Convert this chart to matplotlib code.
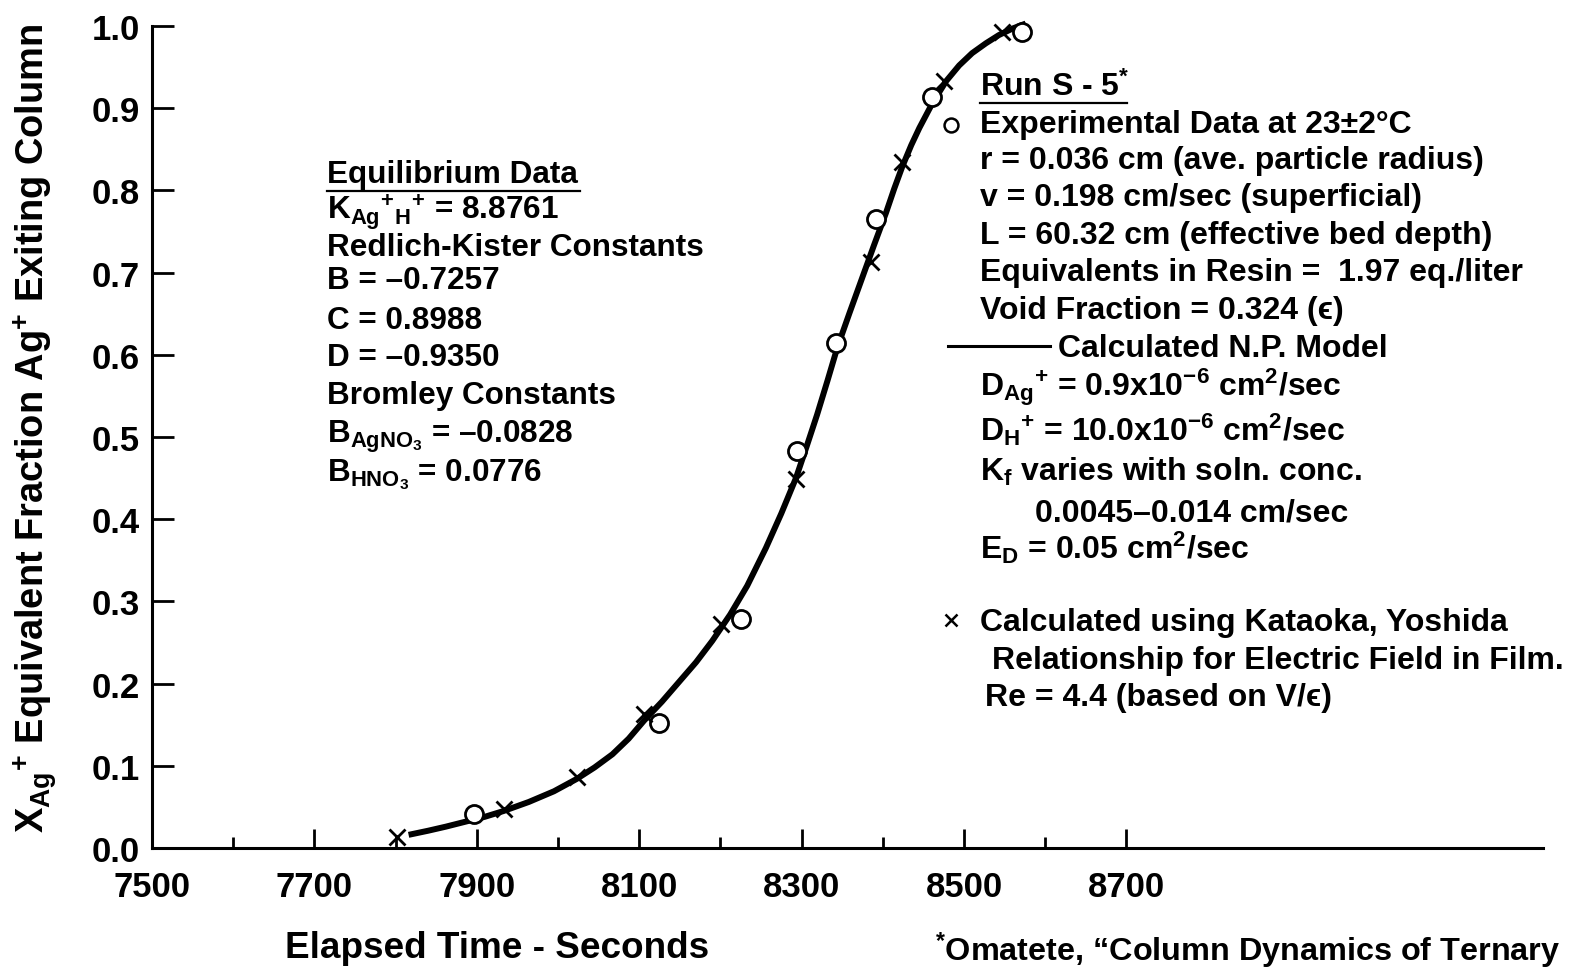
import matplotlib
matplotlib.use("Agg")
import matplotlib.pyplot as plt
from matplotlib import font_manager
from matplotlib.lines import Line2D
from matplotlib.ticker import FixedLocator

# Run S-5, Ag+ breakthrough at the column outlet
t_exp = [7897, 8124, 8225, 8294, 8342, 8392, 8461, 8571]
x_exp = [0.041, 0.152, 0.279, 0.483, 0.614, 0.765, 0.914, 0.993]

# Kataoka-Yoshida film field points
t_ky = [7802, 7933, 8023, 8106, 8201, 8293, 8385, 8424, 8475, 8547]
x_ky = [0.013, 0.047, 0.086, 0.163, 0.272, 0.449, 0.713, 0.835, 0.933, 0.993]

# N.P. model curve
t_np = [7816, 7840, 7862, 7890, 7910, 7933, 7964, 7995, 8023, 8045,
        8067, 8087, 8106, 8128, 8149, 8170, 8190, 8212, 8233, 8256,
        8275, 8293, 8306, 8319, 8332, 8344, 8359, 8374, 8389, 8404,
        8414, 8424, 8435, 8445, 8461, 8478, 8494, 8510, 8527, 8543,
        8560, 8576]
x_np = [0.016, 0.021, 0.026, 0.033, 0.038, 0.045, 0.056, 0.069, 0.084, 0.098,
        0.114, 0.133, 0.155, 0.178, 0.202, 0.226, 0.252, 0.284, 0.319, 0.365,
        0.407, 0.450, 0.488, 0.527, 0.569, 0.609, 0.651, 0.692, 0.733, 0.773,
        0.802, 0.829, 0.855, 0.876, 0.906, 0.933, 0.952, 0.967, 0.979, 0.989,
        0.997, 1.003]

x_ticks = [7500, 7700, 7900, 8100, 8300, 8500, 8700]
x_minor = [7600, 7800, 8000, 8200, 8400, 8600]
y_ticks = [0.0, 0.1, 0.2, 0.3, 0.4, 0.5, 0.6, 0.7, 0.8, 0.9, 1.0]


def have(name):
    try:
        font_manager.findfont(font_manager.FontProperties(family=name),
                              fallback_to_default=False)
        return True
    except ValueError:
        return False


SANS = ["Liberation Sans", "DejaVu Sans"]
NARROW = ["Liberation Sans Narrow"] + SANS if have("Liberation Sans Narrow") else SANS
narrow_scale = 1.0 if have("Liberation Sans Narrow") else 0.865

plt.rcParams.update({
    "font.family": SANS,
    "font.weight": "bold",
    "mathtext.fontset": "custom",
    "mathtext.rm": "Liberation Sans:bold",
    "mathtext.it": "Liberation Sans:bold",
    "mathtext.bf": "Liberation Sans:bold",
    "mathtext.sf": "Liberation Sans:bold",
})

W, H = 1574, 970
fig = plt.figure(figsize=(W / 100, H / 100), dpi=100)
ax = fig.add_axes([152 / W, 1 - 849 / H, (1543 - 152) / W, (849 - 27) / H])

ax.plot(t_np, x_np, color="black", lw=4.3, solid_capstyle="butt",
        solid_joinstyle="round", clip_on=False)
ax.plot(t_exp, x_exp, ls="none", marker="o", ms=13, mfc="white", mec="black",
        mew=2.0, clip_on=False)
ax.plot(t_ky, x_ky, ls="none", marker="x", ms=12, mec="black", mew=2.0, clip_on=False)

ax.set_xlim(7500, 9213)
ax.set_ylim(0, 1.0)
for side in ("top", "right"):
    ax.spines[side].set_visible(False)
for side in ("left", "bottom"):
    ax.spines[side].set_linewidth(2.2)

ax.xaxis.set_major_locator(FixedLocator(x_ticks))
ax.xaxis.set_minor_locator(FixedLocator(x_minor))
ax.yaxis.set_major_locator(FixedLocator(y_ticks))
ax.set_xticklabels([str(t) for t in x_ticks])
ax.set_yticklabels([f"{v:.1f}" for v in y_ticks])
ax.tick_params(axis="x", which="major", direction="in", length=14, width=2,
               pad=16, labelsize=25)
ax.tick_params(axis="x", which="minor", direction="in", length=8, width=2)
ax.tick_params(axis="y", direction="in", length=16, width=2, pad=9, labelsize=25)


def put(x, y, s, size=23, family=SANS, **kw):
    fig.text(x / W, 1 - y / H, s, ha="left", va="baseline", fontsize=size,
             family=family, fontweight="bold", **kw)


def hline(x0, x1, y, lw=1.6):
    fig.add_artist(Line2D([x0 / W, x1 / W], [1 - y / H] * 2, color="black", lw=lw))


# equilibrium constants
LEFT = 22.7
put(327, 183, "Equilibrium Data", LEFT)
hline(327, 580, 192)
put(327, 220, r"K$_{Ag}$$^{+}$$_{H}$$^{+}$ = 8.8761", LEFT)
put(327, 256, "Redlich-Kister Constants", LEFT)
put(327, 289, "B = \u20130.7257", LEFT)
put(327, 329, "C = 0.8988", LEFT)
put(327, 366, "D = \u20130.9350", LEFT)
put(327, 404, "Bromley Constants", LEFT)
put(327, 443, "B$_{AgNO_3}$ = \u20130.0828", LEFT)
put(327, 481, r"B$_{HNO_3}$ = 0.0776", LEFT)

# run conditions and key
put(980, 96, r"Run S - 5$^{*}$")
hline(980, 1127, 104)
fig.add_artist(Line2D([951 / W], [1 - 126 / H], marker="o", ms=10, mfc="white",
                      mec="black", mew=1.8, ls="none"))
put(980, 133, "Experimental Data at 23\u00b12\u00b0C")
put(980, 169, "r = 0.036 cm (ave. particle radius)")
put(980, 206, "v = 0.198 cm/sec (superficial)")
put(980, 244, "L = 60.32 cm (effective bed depth)")
put(980, 281, "Equivalents in Resin =  1.97 eq./liter")
put(980, 319, "Void Fraction = 0.324 (\u03f5)")
hline(948, 1050, 347, lw=2.2)
put(1058, 357, "Calculated N.P. Model")
put(980, 396, r"D$_{Ag}$$^{+}$ = 0.9x10$^{-6}$ cm$^{2}$/sec")
put(980, 441, r"D$_{H}$$^{+}$ = 10.0x10$^{-6}$ cm$^{2}$/sec")
put(980, 481, r"K$_{f}$ varies with soln. conc.")
put(1035, 521, "0.0045\u20130.014 cm/sec")
put(980, 559, r"E$_{D}$ = 0.05 cm$^{2}$/sec")
fig.add_artist(Line2D([951 / W], [1 - 621 / H], marker="x", ms=9, mec="black",
                      mew=1.8, ls="none"))
put(980, 631, "Calculated using Kataoka, Yoshida")
put(992, 669, "Relationship for Electric Field in Film.")
put(985, 706, "Re = 4.4 (based on V/\u03f5)")

# axis titles and reference
fig.text(35 / W, 1 - 428 / H,
         r"X$_{Ag}$$^{+}$ Equivalent Fraction Ag$^{+}$ Exiting Column",
         rotation=90, ha="center", va="center", fontsize=27.4, fontweight="bold")
fig.text(497 / W, 1 - 949 / H, "Elapsed Time - Seconds", ha="center", va="center",
         fontsize=26.6, fontweight="bold")
put(935, 961, "$^{*}$Omatete, \u201cColumn Dynamics of Ternary",
    size=27 * narrow_scale, family=NARROW)

fig.savefig("out.png", dpi=100)
